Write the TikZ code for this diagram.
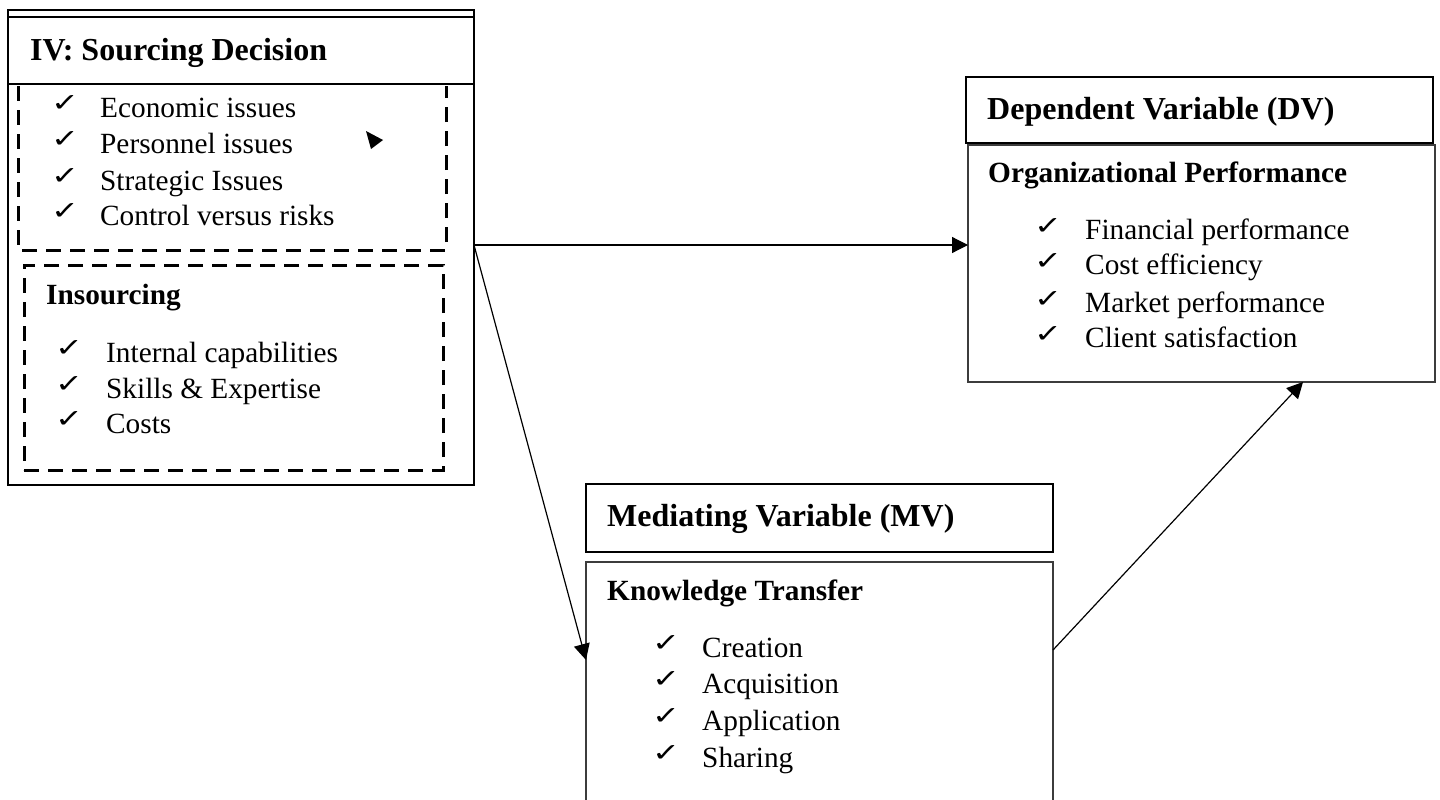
\documentclass[tikz,border=0pt]{standalone}
\usepackage{fontspec}
\usepackage{graphicx}
\setmainfont{Liberation Serif}
\newfontfamily\chkfont{DejaVu Sans}
\usetikzlibrary{arrows.meta,calc}
\definecolor{bodyline}{RGB}{60,60,60}
\newcommand{\tick}{\resizebox{28pt}{16pt}{\chkfont\bfseries ✓}}
\begin{document}
\begin{tikzpicture}[x=1pt,y=-1pt,
  box/.style={draw, rectangle, anchor=north west, inner sep=0pt, outer sep=0pt},
  headbox/.style={box, line width=2pt},
  bodybox/.style={box, line width=1.6pt, draw=bodyline},
  hd/.style={anchor=base west, inner sep=0pt, font=\fontsize{32}{38}\selectfont\bfseries},
  sub/.style={anchor=base west, inner sep=0pt, font=\fontsize{29.3}{35}\selectfont\bfseries},
  item/.style={anchor=base west, inner sep=0pt, font=\fontsize{29.3}{35}\selectfont},
  chk/.style={anchor=south west, inner sep=0pt},
  conn/.style={line width=1.2pt, -{Triangle[length=16pt,width=16pt]}},
  dashline/.style={line width=3pt, dash pattern=on 15pt off 9pt}
]
\useasboundingbox (0,0) rectangle (1440,800);
\clip (0,0) rectangle (1440,800);

% ---------- Left block: IV ----------
\node[box, line width=2.5pt, minimum width=466pt, minimum height=475pt] (iv) at (8,10) {};
\node[headbox, minimum width=466pt, minimum height=67pt] (ivhead) at (8,17) {};
\node[hd] (ivtitle) at (30,60) {IV: Sourcing Decision};

% dashed box 1 (outsourcing items)
\coordinate (d1a) at (18,86);
\coordinate (d1b) at (18,250);
\coordinate (d1c) at (446,250);
\coordinate (d1d) at (446,86);
\draw[dashline] (d1a) -- (d1b) -- (d1c) -- (d1d);

\foreach \t/\yy [count=\i] in {Economic issues/117, Personnel issues/153, Strategic Issues/190, Control versus risks/225}{
  \node[chk] (oc\i) at (51,\yy-5) {\tick};
  \node[item] (ot\i) at (100,\yy) {\t};
}
% stray arrowhead
\fill (366,131) -- (383,140) -- (371,149) -- cycle;

% dashed box 2 (insourcing)
\node[box, dashline, minimum width=419pt, minimum height=205pt] (ins) at (24,265) {};
\node[sub] (institle) at (46,304) {Insourcing};
\foreach \t/\yy [count=\i] in {Internal capabilities/362, Skills \& Expertise/398, Costs/433}{
  \node[chk] (ic\i) at (55,\yy-5) {\tick};
  \node[item] (it\i) at (106,\yy) {\t};
}

% ---------- DV ----------
\node[headbox, minimum width=467pt, minimum height=66pt] (dvhead) at (966,77) {};
\node[hd] (dvtitle) at (987,119) {Dependent Variable (DV)};
\node[bodybox, minimum width=467pt, minimum height=237pt] (dvbody) at (968,145) {};
\node[sub] (dvsub) at (988,182) {Organizational Performance};
\foreach \t/\yy [count=\i] in {Financial performance/239, Cost efficiency/274, Market performance/312, Client satisfaction/347}{
  \node[chk] (dc\i) at (1034,\yy-4) {\tick};
  \node[item] (dt\i) at (1085,\yy) {\t};
}

% ---------- MV ----------
\node[headbox, minimum width=467pt, minimum height=68pt] (mvhead) at (586,484) {};
\node[hd] (mvtitle) at (607,526) {Mediating Variable (MV)};
\node[bodybox, minimum width=467pt, minimum height=260pt] (mvbody) at (586,562) {};
\node[sub] (mvsub) at (607,600) {Knowledge Transfer};
\foreach \t/\yy [count=\i] in {Creation/657, Acquisition/693, Application/730, Sharing/767}{
  \node[chk] (mc\i) at (652,\yy-5) {\tick};
  \node[item] (mt\i) at (702,\yy) {\t};
}

% ---------- connectors ----------
\coordinate (src) at ($(iv.north east)+(0,235)$);
\draw[conn] (src) -- (src -| dvbody.west);
\draw[conn] (src) -- ($(mvbody.north west)+(0,98)$);
\draw[conn] ($(mvbody.north east)+(0,88)$) -- ($(dvbody.south west)+(335,0)$);
\end{tikzpicture}
\end{document}
